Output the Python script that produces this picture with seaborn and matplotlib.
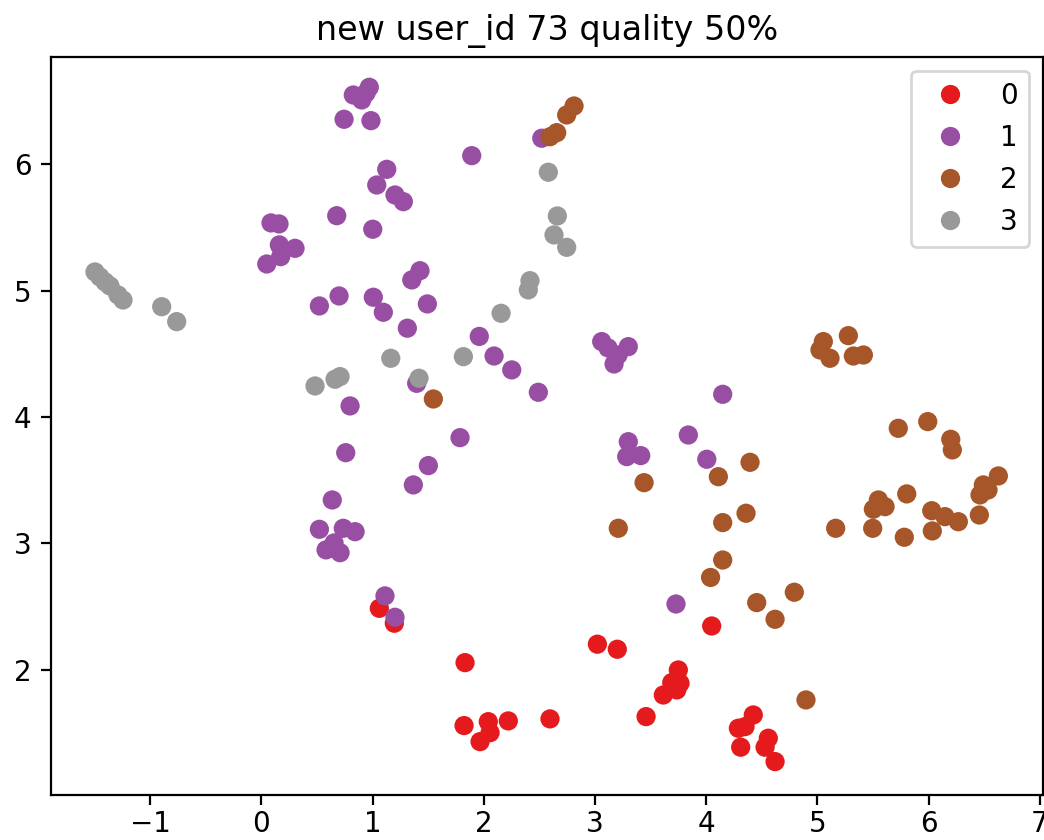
import numpy as np
import pandas as pd
import matplotlib
matplotlib.use("Agg")
import matplotlib.pyplot as plt
import seaborn as sns

# === Donnees ===
x0 = [1.061, 1.196, 1.832, 1.823, 2.041, 2.057, 1.967, 2.221, 2.596, 3.022,
      3.201, 3.750, 3.765, 3.691, 3.615, 3.736, 3.460, 4.050, 4.424, 4.290,
      4.350, 4.311, 4.559, 4.530, 4.620]
y0 = [2.487, 2.369, 2.057, 1.559, 1.590, 1.503, 1.432, 1.596, 1.612, 2.203,
      2.163, 1.999, 1.894, 1.899, 1.801, 1.841, 1.630, 2.347, 1.643, 1.538,
      1.551, 1.388, 1.459, 1.388, 1.274]

x1 = [0.827, 0.903, 0.971, 0.942, 0.744, 0.986, 1.128, 1.038, 1.202, 1.277,
      0.678, 1.002, 0.087, 0.159, 0.162, 0.303, 0.174, 0.049, 1.427, 1.353,
      0.522, 0.699, 1.007, 1.097, 1.493, 1.313, 1.960, 2.093, 2.252, 2.491,
      2.522, 1.892, 1.397, 0.798, 1.787, 1.502, 1.367, 0.759, 0.638, 0.522,
      0.737, 0.843, 0.582, 0.654, 0.708, 1.112, 1.202, 3.061, 3.118, 3.172,
      3.208, 3.300, 4.149, 3.300, 3.286, 3.412, 3.840, 4.006, 3.729]
y1 = [6.548, 6.509, 6.609, 6.564, 6.356, 6.345, 5.960, 5.836, 5.757, 5.704,
      5.593, 5.486, 5.536, 5.528, 5.362, 5.335, 5.269, 5.211, 5.158, 5.085,
      4.879, 4.958, 4.948, 4.829, 4.895, 4.703, 4.638, 4.483, 4.373, 4.196,
      6.206, 6.068, 4.267, 4.088, 3.837, 3.616, 3.463, 3.718, 3.344, 3.112,
      3.120, 3.093, 2.949, 3.004, 2.927, 2.585, 2.416, 4.597, 4.547, 4.420,
      4.491, 4.557, 4.180, 3.805, 3.687, 3.695, 3.858, 3.666, 2.521]

x2 = [2.596, 2.656, 2.746, 2.812, 1.547, 3.442, 3.210, 4.110, 4.395, 4.149,
      4.359, 4.149, 4.040, 4.455, 4.620, 4.793, 4.898, 5.054, 5.024, 5.114,
      5.279, 5.324, 5.414, 5.728, 5.993, 6.200, 6.214, 6.628, 6.493, 6.463,
      6.535, 6.457, 5.804, 5.549, 5.504, 5.609, 5.165, 5.498, 5.782, 6.029,
      6.148, 6.268, 6.034]
y2 = [6.218, 6.250, 6.390, 6.461, 4.143, 3.481, 3.120, 3.528, 3.642, 3.165,
      3.239, 2.869, 2.731, 2.532, 2.400, 2.614, 1.762, 4.597, 4.531, 4.465,
      4.644, 4.483, 4.491, 3.911, 3.964, 3.824, 3.740, 3.534, 3.463, 3.384,
      3.423, 3.225, 3.392, 3.344, 3.271, 3.291, 3.120, 3.120, 3.049, 3.259,
      3.212, 3.172, 3.099]

x3 = [-1.496, -1.451, -1.405, -1.361, -1.289, -1.244, -0.896, -0.761, 0.483,
      0.663, 0.708, 1.164, 1.418, 1.817, 2.156, 2.401, 2.416, 2.632, 2.662,
      2.746, 2.581]
y3 = [5.148, 5.108, 5.069, 5.037, 4.966, 4.926, 4.873, 4.755, 4.246,
      4.299, 4.320, 4.465, 4.307, 4.478, 4.821, 5.006, 5.079, 5.441, 5.591,
      5.343, 5.937]

labels = ["0", "1", "2", "3"]
colors = ["#e41a1c", "#984ea3", "#a65628", "#999999"]

# === Tableau ===
frames = []
for lab, xs, ys in zip(labels, [x0, x1, x2, x3], [y0, y1, y2, y3]):
    frames.append(pd.DataFrame({"x": xs, "y": ys, "label": lab}))
df = pd.concat(frames, ignore_index=True)

# === Figure ===
fig = plt.figure(figsize=(5.22, 4.2), dpi=200)
ax = fig.add_axes([0.0489, 0.0536, 0.9502, 0.8786])
sns.scatterplot(data=df, x="x", y="y", hue="label", hue_order=labels,
                palette=colors, s=48, linewidth=0, edgecolor="none", ax=ax)
ax.set_xlim(-1.891, 7.03)
ax.set_ylim(1.010, 6.849)
ax.set_xlabel("")
ax.set_ylabel("")
ax.tick_params(axis="x", pad=2.0)
ax.set_title("new user_id 73 quality 50%", fontsize=12)
sns.move_legend(ax, "upper right", title=None, fontsize=10)
fig.savefig("out.png", dpi=200)
